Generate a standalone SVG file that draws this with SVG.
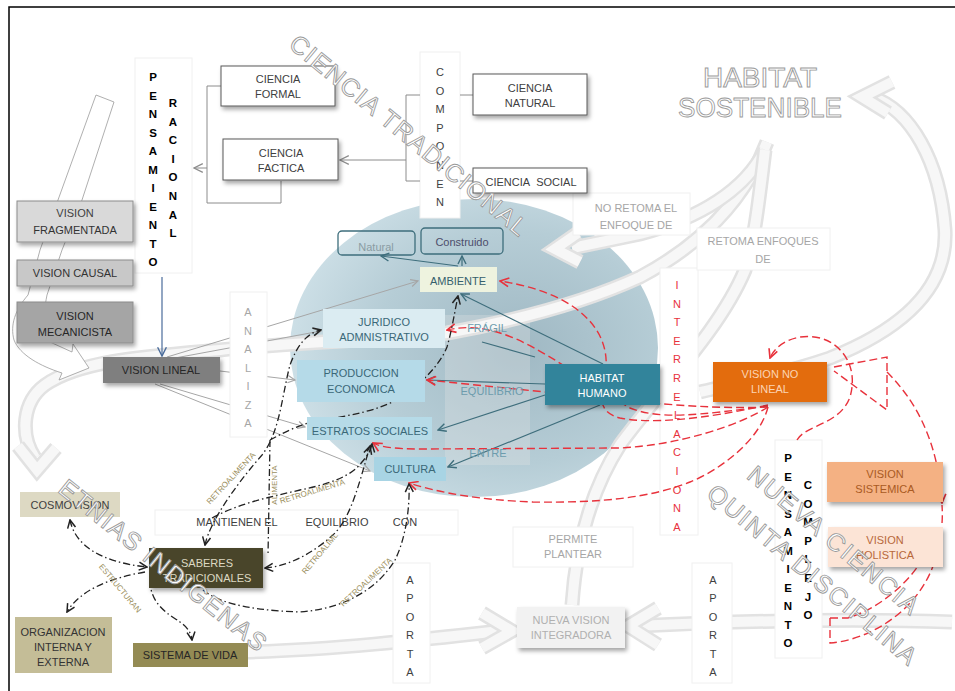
<svg xmlns="http://www.w3.org/2000/svg" width="955" height="691" viewBox="0 0 955 691">
<defs>
<style>
text{font-family:"Liberation Sans",Arial,sans-serif;font-size:11px;text-anchor:middle;fill:#404040}
.bw{fill:#fff;stroke:#595959;stroke-width:1}
.col{fill:#fff;stroke:#f0f0f0;stroke-width:1}
.band{fill:none;stroke:#e2e2e2;stroke-width:15;stroke-linejoin:miter}
.bandi{fill:none;stroke:#f7f7f7;stroke-width:10;stroke-linejoin:miter}
.ol{fill:#fff;stroke:#9a9a9a;stroke-width:.9;font-size:25px}
.gl{fill:none;stroke:#a6a6a6;stroke-width:1}
.kl{fill:none;stroke:#8c8c8c;stroke-width:1}
.tl{fill:none;stroke:#3e6e7c;stroke-width:1.2}
.rd{fill:none;stroke:#e8323c;stroke-width:1.4;stroke-dasharray:8 4}
.dd{fill:none;stroke:#222;stroke-width:1.3;stroke-dasharray:7 3 1.5 3}
.rl{font-size:8px;fill:#9c9060}
.vb{font-weight:bold;fill:#000;font-size:11.5px}
.sh{filter:url(#sh)}
</style>
<filter id="sh" x="-20%" y="-20%" width="150%" height="160%"><feDropShadow dx="2" dy="3" stdDeviation="2" flood-color="#000" flood-opacity="0.35"/></filter>
<radialGradient id="eg" cx="0.62" cy="0.5" r="0.65"><stop offset="0" stop-color="#9fb8c3"/><stop offset="0.6" stop-color="#b6cdd6"/><stop offset="1" stop-color="#cfe1e8"/></radialGradient>
<marker id="mg" viewBox="0 0 10 10" refX="9" refY="5" markerWidth="9" markerHeight="9" markerUnits="userSpaceOnUse" orient="auto-start-reverse"><path d="M1,1L9,5L1,9" fill="none" stroke="#a6a6a6" stroke-width="1.3"/></marker>
<marker id="mk" viewBox="0 0 10 10" refX="9" refY="5" markerWidth="11" markerHeight="11" markerUnits="userSpaceOnUse" orient="auto-start-reverse"><path d="M1,1L9,5L1,9" fill="none" stroke="#8c8c8c" stroke-width="1.1"/></marker>
<marker id="mt" viewBox="0 0 10 10" refX="9" refY="5" markerWidth="10" markerHeight="10" markerUnits="userSpaceOnUse" orient="auto-start-reverse"><path d="M1,1L9,5L1,9" fill="none" stroke="#3e6e7c" stroke-width="1.4"/></marker>
<marker id="mr" viewBox="0 0 10 10" refX="9" refY="5" markerWidth="11" markerHeight="11" markerUnits="userSpaceOnUse" orient="auto-start-reverse"><path d="M1,1L9,5L1,9" fill="none" stroke="#e8323c" stroke-width="1.5"/></marker>
<marker id="mb" viewBox="0 0 10 10" refX="9" refY="5" markerWidth="11" markerHeight="11" markerUnits="userSpaceOnUse" orient="auto-start-reverse"><path d="M1,1L9,5L1,9" fill="none" stroke="#4a6c9b" stroke-width="1.3"/></marker>
<marker id="md" viewBox="0 0 10 10" refX="9" refY="5" markerWidth="10" markerHeight="10" markerUnits="userSpaceOnUse" orient="auto-start-reverse"><path d="M1,1L9,5L1,9" fill="none" stroke="#222" stroke-width="1.5"/></marker>
<path id="b1" d="M767,142 C745,200 700,245 640,277 C590,300 530,318 447,333 C380,340 300,342 220,350 C150,356 80,360 45,385 C22,402 20,435 35,458"/>
<path id="c1" d="M18,446 L37,470 L56,448"/>
<path id="b3" d="M765,150 C745,190 700,218 640,234 L572,248"/>
<path id="c3" d="M578,233 L555,249 L580,262"/>
<path id="b4" d="M572,605 C575,560 585,500 620,445 C660,390 720,330 745,270 C755,240 760,190 765,150"/>
<path id="b5" d="M872,97 C910,110 940,160 945,230 C948,290 900,330 830,358 C780,375 730,385 700,392"/>
<path id="c5" d="M892,82 L862,97 L888,113"/>
<path id="b6" d="M245,652 C330,650 420,640 500,631"/>
<path id="c6" d="M482,613 L512,631 L482,648"/>
<path id="b7" d="M952,622 C850,618 720,622 636,626"/>
<path id="c7" d="M658,608 L628,626 L658,645"/>
</defs>
<rect width="955" height="691" fill="#fff"/>
<path d="M9,691 V7 H955" fill="none" stroke="#000" stroke-width="1.5"/>

<g id="ellipse">
<ellipse cx="474" cy="348" rx="184" ry="149" fill="url(#eg)"/>
<rect x="445" y="315" width="85" height="150" fill="#e6e6e6" opacity="0.3"/>
</g>

<g id="bands">
<use href="#b1" class="band"/><use href="#b1" class="bandi"/>
<use href="#c1" class="band"/><use href="#c1" class="bandi"/>
<use href="#b3" class="band"/><use href="#b3" class="bandi"/>
<use href="#c3" class="band"/><use href="#c3" class="bandi"/>
<use href="#b4" class="band"/><use href="#b4" class="bandi"/>
<use href="#b5" class="band"/><use href="#b5" class="bandi"/>
<use href="#c5" class="band"/><use href="#c5" class="bandi"/>
<use href="#b6" class="band"/><use href="#b6" class="bandi"/>
<use href="#c6" class="band"/><use href="#c6" class="bandi"/>
<use href="#b7" class="band"/><use href="#b7" class="bandi"/>
<use href="#c7" class="band"/><use href="#c7" class="bandi"/>
<path d="M96,95 L114,102 L82,200 L62,250 L47,295 C42,320 43,335 50,342 L72,352 L73,344 L89,368 L59,380 L62,373 C40,366 20,355 14,340 C10,325 15,310 28,295 L40,250 L58,200 Z" fill="#fff" stroke="#9a9a9a" stroke-width="0.8"/>
</g>

<g id="connectors-analiza">
<path class="gl" d="M167,357 L418,281" marker-end="url(#mg)"/>
<path class="gl" d="M175,358 L321,331" marker-end="url(#mg)"/>
<path class="gl" d="M220,371 L295,380" marker-end="url(#mg)"/>
<path class="gl" d="M160,384 L305,427" marker-end="url(#mg)"/>
<path class="gl" d="M155,384 L370,471" marker-end="url(#mg)"/>
</g>

<g id="columns">
<g id="pensamiento-racional">
<rect class="col" x="135" y="58" width="57" height="215"/>
<text class="vb"><tspan x="153" y="81">P</tspan><tspan x="153" dy="18.5">E</tspan><tspan x="153" dy="18.5">N</tspan><tspan x="153" dy="18.5">S</tspan><tspan x="153" dy="18.5">A</tspan><tspan x="153" dy="18.5">M</tspan><tspan x="153" dy="18.5">I</tspan><tspan x="153" dy="18.5">E</tspan><tspan x="153" dy="18.5">N</tspan><tspan x="153" dy="18.5">T</tspan><tspan x="153" dy="18.5">O</tspan></text>
<text class="vb"><tspan x="173" y="107">R</tspan><tspan x="173" dy="18.6">A</tspan><tspan x="173" dy="18.6">C</tspan><tspan x="173" dy="18.6">I</tspan><tspan x="173" dy="18.6">O</tspan><tspan x="173" dy="18.6">N</tspan><tspan x="173" dy="18.6">A</tspan><tspan x="173" dy="18.6">L</tspan></text>
</g>
<g id="componen">
<rect class="col" x="420" y="52" width="40" height="166"/>
<text fill="#404040"><tspan x="440" y="76">C</tspan><tspan x="440" dy="18.6">O</tspan><tspan x="440" dy="18.6">M</tspan><tspan x="440" dy="18.6">P</tspan><tspan x="440" dy="18.6">O</tspan><tspan x="440" dy="18.6">N</tspan><tspan x="440" dy="18.6">E</tspan><tspan x="440" dy="18.6">N</tspan></text>
</g>
<g id="analiza">
<rect class="col" x="230" y="292" width="37" height="145"/>
<text style="fill:#a6a6a6"><tspan x="248" y="316">A</tspan><tspan x="248" dy="18.5">N</tspan><tspan x="248" dy="18.5">A</tspan><tspan x="248" dy="18.5">L</tspan><tspan x="248" dy="18.5">I</tspan><tspan x="248" dy="18.5">Z</tspan><tspan x="248" dy="18.5">A</tspan></text>
</g>
<g id="interrelaciona">
<rect class="col" x="660" y="268" width="38" height="267"/>
<text style="fill:#e8323c"><tspan x="677" y="289">I</tspan><tspan x="677" dy="18.6">N</tspan><tspan x="677" dy="18.6">T</tspan><tspan x="677" dy="18.6">E</tspan><tspan x="677" dy="18.6">R</tspan><tspan x="677" dy="18.6">R</tspan><tspan x="677" dy="18.6">E</tspan><tspan x="677" dy="18.6">L</tspan><tspan x="677" dy="18.6">A</tspan><tspan x="677" dy="18.6">C</tspan><tspan x="677" dy="18.6">I</tspan><tspan x="677" dy="18.6">O</tspan><tspan x="677" dy="18.6">N</tspan><tspan x="677" dy="18.6">A</tspan></text>
</g>
<g id="aporta-1">
<rect class="col" x="393" y="563" width="37" height="120"/>
<text><tspan x="410" y="584">A</tspan><tspan x="410" dy="18.4">P</tspan><tspan x="410" dy="18.4">O</tspan><tspan x="410" dy="18.4">R</tspan><tspan x="410" dy="18.4">T</tspan><tspan x="410" dy="18.4">A</tspan></text>
</g>
<g id="aporta-2">
<rect class="col" x="692" y="563" width="40" height="120"/>
<text><tspan x="713" y="584">A</tspan><tspan x="713" dy="18.4">P</tspan><tspan x="713" dy="18.4">O</tspan><tspan x="713" dy="18.4">R</tspan><tspan x="713" dy="18.4">T</tspan><tspan x="713" dy="18.4">A</tspan></text>
</g>
<g id="pensamiento-complejo">
<rect class="col" x="775" y="440" width="47" height="218"/>
<text class="vb"><tspan x="788" y="462">P</tspan><tspan x="788" dy="18.5">E</tspan><tspan x="788" dy="18.5">N</tspan><tspan x="788" dy="18.5">S</tspan><tspan x="788" dy="18.5">A</tspan><tspan x="788" dy="18.5">M</tspan><tspan x="788" dy="18.5">I</tspan><tspan x="788" dy="18.5">E</tspan><tspan x="788" dy="18.5">N</tspan><tspan x="788" dy="18.5">T</tspan><tspan x="788" dy="18.5">O</tspan></text>
<text class="vb"><tspan x="808" y="489">C</tspan><tspan x="808" dy="18.6">O</tspan><tspan x="808" dy="18.6">M</tspan><tspan x="808" dy="18.6">P</tspan><tspan x="808" dy="18.6">L</tspan><tspan x="808" dy="18.6">E</tspan><tspan x="808" dy="18.6">J</tspan><tspan x="808" dy="18.6">O</tspan></text>
</g>
<g id="mantienen">
<rect class="col" x="155" y="510" width="303" height="25"/>
<text x="237" y="526">MANTIENEN  EL</text>
<text x="337" y="526">EQUILIBRIO</text>
<text x="405" y="526">CON</text>
</g>
<g id="no-retoma">
<rect class="col" x="573" y="193" width="117" height="42"/>
<text x="636" y="212" style="fill:#a6a6a6">NO RETOMA EL</text>
<text x="636" y="229" style="fill:#a6a6a6">ENFOQUE DE</text>
</g>
<g id="retoma">
<rect class="col" x="697" y="228" width="133" height="42"/>
<text x="763" y="245" style="fill:#a6a6a6">RETOMA  ENFOQUES</text>
<text x="763" y="263" style="fill:#a6a6a6">DE</text>
</g>
<g id="permite">
<rect class="col" x="513" y="527" width="120" height="40"/>
<text x="573" y="543" style="fill:#a6a6a6">PERMITE</text>
<text x="573" y="558" style="fill:#a6a6a6">PLANTEAR</text>
</g>
</g>

<g id="connectors">
<path class="kl" d="M221,86 H207 V203 H281 V181"/>
<path class="kl" d="M207,168 H194" marker-end="url(#mk)"/>
<path class="kl" d="M420,95 H406 V181 H420"/>
<path class="kl" d="M406,160 H340" marker-end="url(#mk)"/>
<path class="kl" d="M460,95 H473 M460,181 H473"/>
<path d="M162,277 V356" fill="none" stroke="#4a6c9b" stroke-width="1.2" marker-end="url(#mb)"/>
<path class="tl" d="M458,266 L381,256" marker-end="url(#mt)"/>
<path class="tl" d="M462,266 L462,256" marker-end="url(#mt)"/>
<path class="tl" d="M603,364 L461,294" marker-end="url(#mt)"/>
<path class="tl" d="M535,357 L482,342"/>
<path class="tl" d="M545,384 L427,380" marker-end="url(#mt)"/>
<path class="tl" d="M545,395 L438,430" marker-end="url(#mt)"/>
<path class="tl" d="M600,405 L448,467" marker-end="url(#mt)"/>
<path class="rd" d="M768,405 C700,420 650,424 620,418 C597,412 600,395 605,375 C612,340 590,295 500,281" marker-end="url(#mr)"/>
<path class="rd" d="M768,406 C700,415 660,420 630,408 C590,385 540,345 500,333 C480,327 465,326 447,330" marker-end="url(#mr)"/>
<path class="rd" d="M768,407 C700,410 620,400 545,392 L427,380" marker-end="url(#mr)"/>
<path class="rd" d="M768,407 C740,425 680,445 620,448 L420,449 C395,449 380,447 373,443" marker-end="url(#mr)"/>
<path class="rd" d="M768,407 C760,440 720,470 690,482 C650,498 600,503 533,502 C480,500 440,493 409,483" marker-end="url(#mr)"/>
<path class="rd" d="M797,440 C805,425 840,425 850,397 C858,370 845,345 820,338 C795,332 775,345 770,358" marker-end="url(#mr)"/>
<path class="rd" d="M834,367 L887,357 L887,410 L834,371"/>
<path class="rd" d="M887,372 C915,400 938,440 942,503" marker-end="url(#mr)"/>
<path class="rd" d="M830,618 L848,618 C880,608 915,580 930,545"/>
<path class="rd" d="M830,618 L830,643 C870,640 920,610 935,560 C942,535 943,520 942,505"/>
<path class="dd" d="M205,545 C210,520 240,480 262,455 C280,432 282,395 290,365 C298,343 308,333 321,330" marker-start="url(#md)" marker-end="url(#md)"/>
<path class="dd" d="M270,440 L268,556"/>
<path class="dd" d="M212,518 C240,503 270,497 300,490 C330,484 352,476 362,462 C368,455 371,450 372,444" marker-end="url(#md)"/>
<path class="dd" d="M265,568 C290,566 315,552 335,533 C352,515 360,480 370,446" marker-start="url(#md)" marker-end="url(#md)"/>
<path class="dd" d="M203,590 C215,600 240,610 300,612 C350,608 380,585 395,560 C405,540 410,510 409,484" marker-end="url(#md)"/>
<path class="dd" d="M270,440 C285,432 300,424 320,420 C350,416 380,410 400,398 C420,385 440,365 447,347 C452,330 455,310 458,296" marker-end="url(#md)"/>
<path class="dd" d="M70,520 C75,545 100,562 147,567" marker-start="url(#md)" marker-end="url(#md)"/>
<path class="dd" d="M145,572 C110,578 80,590 67,612" marker-end="url(#md)"/>
<path class="dd" d="M150,580 C150,605 170,615 180,622 C187,627 191,632 192,640" marker-end="url(#md)"/>
<text class="rl" transform="translate(233,480) rotate(-47)">RETROALIMENTA</text>
<text class="rl" transform="translate(277,485) rotate(-90)">ALIMENTA</text>
<text class="rl" transform="translate(313,494) rotate(-17)">RETROALIMENTA</text>
<text class="rl" transform="translate(322,555) rotate(-50)">RETROALIML</text>
<text class="rl" transform="translate(368,584) rotate(-43)">RETROALIMENTA</text>
<text class="rl" transform="translate(118,590) rotate(50)">ESTRUCTURAN</text>
</g>

<g id="ciencia-formal"><rect class="bw sh" x="221" y="66" width="114" height="40"/><text x="278" y="83">CIENCIA</text><text x="278" y="98">FORMAL</text></g>
<g id="ciencia-factica"><rect class="bw sh" x="223" y="139" width="115" height="41"/><text x="281" y="157">CIENCIA</text><text x="281" y="172">FACTICA</text></g>
<g id="ciencia-natural"><rect class="bw sh" x="473" y="74" width="114" height="41"/><text x="530" y="92">CIENCIA</text><text x="530" y="107">NATURAL</text></g>
<g id="ciencia-social"><rect class="bw sh" x="473" y="168" width="114" height="25"/><text x="531" y="186">CIENCIA&#160; SOCIAL</text></g>
<g id="vision-fragmentada"><rect class="sh" x="17" y="201" width="116" height="41" fill="#d9d9d9" stroke="#8c8c8c"/><text x="75" y="217" fill="#333">VISION</text><text x="75" y="234" style="fill:#333">FRAGMENTADA</text></g>
<g id="vision-causal"><rect class="sh" x="17" y="260" width="116" height="26" fill="#c8c8c8" stroke="#8c8c8c"/><text x="75" y="277" style="fill:#333">VISION CAUSAL</text></g>
<g id="vision-mecanicista"><rect class="sh" x="17" y="302" width="116" height="41" fill="#a5a5a5" stroke="#8c8c8c"/><text x="75" y="320" style="fill:#262626">VISION</text><text x="75" y="336" style="fill:#262626">MECANICISTA</text></g>
<g id="vision-lineal"><rect class="sh" x="103" y="357" width="117" height="26" fill="#7f7f7f"/><text x="161" y="374" style="fill:#262626">VISION  LINEAL</text></g>
<g id="natural"><rect x="338" y="231" width="77" height="24" rx="4" fill="none" stroke="#3e6e7c" stroke-width="1.3"/><text x="376" y="251" style="fill:#8a9ca3">Natural</text></g>
<g id="construido"><rect x="421" y="228" width="82" height="26" rx="4" fill="none" stroke="#3e6e7c" stroke-width="1.3"/><text x="462" y="246" style="fill:#4d4d6b">Construido</text></g>
<g id="ambiente"><rect x="420" y="267" width="77" height="25" fill="#eef3df"/><text x="458" y="285" style="fill:#35606c">AMBIENTE</text></g>
<g id="juridico"><rect x="323" y="309" width="122" height="39" fill="#dbecf2"/><text x="384" y="326" style="fill:#3a6878">JURIDICO</text><text x="384" y="341" style="fill:#3a6878">ADMNISTRATIVO</text></g>
<g id="produccion"><rect x="297" y="360" width="128" height="42" fill="#b5dae8"/><text x="361" y="377" style="fill:#3a6878">PRODUCCION</text><text x="361" y="393" style="fill:#3a6878">ECONOMICA</text></g>
<g id="estratos"><rect x="307" y="417" width="125" height="23" fill="#b6dbe8"/><text x="370" y="435" style="fill:#3a6878">ESTRATOS SOCIALES</text></g>
<g id="cultura"><rect x="374" y="457" width="72" height="24" fill="#a8d4e4"/><text x="410" y="473" style="fill:#3a6878">CULTURA</text></g>
<g id="ellipse-labels"><text x="487" y="332" style="fill:#6d9cad">FRÁGIL</text><text x="492" y="395" style="fill:#6d9cad">EQUILIBRIO</text><text x="488" y="457" style="fill:#6d9cad">ENTRE</text></g>
<g id="habitat-humano"><rect class="sh" x="545" y="364" width="115" height="41" fill="#31849b"/><text x="602" y="382" style="fill:#fff">HABITAT</text><text x="602" y="397" style="fill:#fff">HUMANO</text></g>
<g id="vision-no-lineal"><rect class="sh" x="713" y="362" width="114" height="40" fill="#e36c09"/><text x="770" y="378" style="fill:#fbd4b4">VISION  NO</text><text x="770" y="393" style="fill:#fbd4b4">LINEAL</text></g>
<g id="vision-sistemica"><rect class="sh" x="827" y="462" width="116" height="40" fill="#f4b183"/><text x="885" y="478" style="fill:#a95a22">VISION</text><text x="885" y="493" style="fill:#a95a22">SISTEMICA</text></g>
<g id="vision-holistica"><rect class="sh" x="828" y="527" width="115" height="40" fill="#fce4d6"/><text x="885" y="544" style="fill:#b8683a">VISION</text><text x="885" y="559" style="fill:#b8683a">HOLISTICA</text></g>
<g id="nueva-vision"><rect class="sh" x="517" y="607" width="108" height="41" fill="#f2f2f2"/><text x="571" y="624" style="fill:#b0b0b0">NUEVA VISION</text><text x="571" y="639" style="fill:#b0b0b0">INTEGRADORA</text></g>
<g id="cosmovision"><rect x="20" y="492" width="100" height="25" fill="#ddd9c3"/><text x="70" y="509">COSMOVISION</text></g>
<g id="saberes"><rect class="sh" x="149" y="548" width="114" height="40" fill="#4a4529"/><text x="207" y="567" style="fill:#ddd9c3">SABERES</text><text x="207" y="582" style="fill:#ddd9c3">TRADICIONALES</text></g>
<g id="organizacion"><rect x="15" y="617" width="97" height="56" fill="#c4bd97"/><text x="63" y="636" style="fill:#333">ORGANIZACION</text><text x="63" y="651" style="fill:#333">INTERNA  Y</text><text x="63" y="666" style="fill:#333">EXTERNA</text></g>
<g id="sistema-vida"><rect x="133" y="643" width="115" height="24" fill="#948b54"/><text x="190" y="659" style="fill:#262626">SISTEMA DE VIDA</text></g>

<g id="outlined-titles">
<text class="ol" transform="translate(409,135) rotate(39.5)" y="9" textLength="300" lengthAdjust="spacing">CIENCIA TRADICIONAL</text>
<text class="ol" transform="translate(163,565) rotate(38.7)" y="9" textLength="258" lengthAdjust="spacing">ETNIAS INDIGENAS</text>
<g transform="translate(823,557) rotate(40)">
<text class="ol" x="-3" y="-11" textLength="215" lengthAdjust="spacing">NUEVA CIENCIA</text>
<text class="ol" x="3" y="29" textLength="265" lengthAdjust="spacing">QUINTA DISCIPLINA</text>
</g>
<text class="ol" x="760" y="87" style="font-size:27px" textLength="114" lengthAdjust="spacingAndGlyphs">HABITAT</text>
<text class="ol" x="760" y="117" style="font-size:27px" textLength="164" lengthAdjust="spacingAndGlyphs">SOSTENIBLE</text>
</g>
</svg>
